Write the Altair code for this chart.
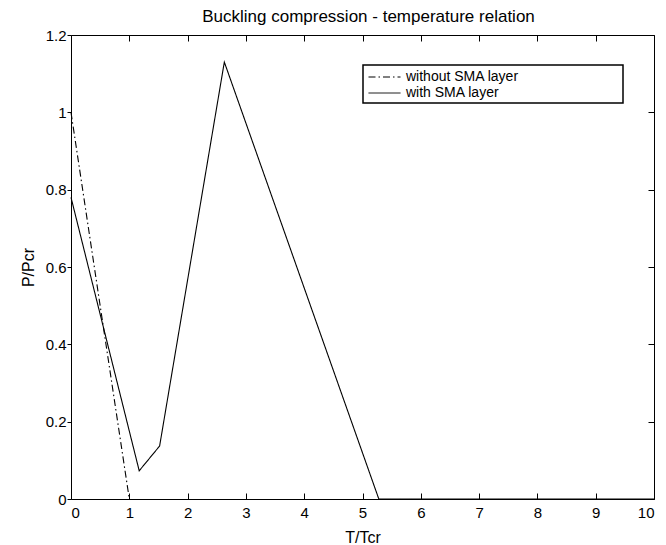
import altair as alt
import pandas as pd

# Data
without_x = [0.0, 1.0]
without_y = [1.0, 0.0]
with_x = [0.0, 1.17, 1.52, 2.63, 5.28, 10.0]
with_y = [0.78, 0.073, 0.137, 1.13, 0.0, 0.0]
series_names = ["without SMA layer", "with SMA layer"]
x_ticks = [0, 1, 2, 3, 4, 5, 6, 7, 8, 9, 10]
y_ticks = [0, 0.2, 0.4, 0.6, 0.8, 1, 1.2]

df_without = pd.DataFrame({"x": without_x, "y": without_y, "series": series_names[0]})
df_with = pd.DataFrame({"x": with_x, "y": with_y, "series": series_names[1]})

FONT = "Liberation Sans"
TICK = 6

x_scale = alt.Scale(domain=[0, 10], nice=False, zero=False)
y_scale = alt.Scale(domain=[0, 1.2], nice=False, zero=False)
dash_scale = alt.Scale(domain=series_names, range=[[7, 3, 1.5, 3], [1, 0]])

legend = alt.Legend(
    title=None,
    orient="none",
    legendX=297,
    legendY=34,
    padding=0,
    symbolType="stroke",
    symbolSize=1024,
    symbolStrokeWidth=1,
    symbolStrokeColor="black",
    clipHeight=16,
    labelFont=FONT,
    labelFontSize=14,
    labelColor="black",
    labelOffset=5,
    labelLimit=400,
    rowPadding=0,
)

bottom_axis = alt.Axis(
    values=x_ticks, labelExpr="'' + datum.value", orient="bottom", offset=-TICK, tickSize=TICK,
    domain=False, grid=False, labelPadding=6, title="T/Tcr", titlePadding=9,
)
left_axis = alt.Axis(
    values=y_ticks, labelExpr="'' + datum.value", orient="left", tickSize=4,
    domain=False, grid=False, labelPadding=1, title="P/Pcr", titlePadding=9,
)
top_axis = alt.Axis(
    values=x_ticks, orient="top", offset=-TICK, tickSize=TICK, minExtent=0, maxExtent=0,
    domain=False, grid=False, labels=False, title=None,
)
right_axis = alt.Axis(
    values=y_ticks, orient="right", offset=-TICK, tickSize=TICK, minExtent=0, maxExtent=0,
    domain=False, grid=False, labels=False, title=None,
)

# legend frame (decoration only, in pixel units of the plot area)
legend_frame = alt.Chart(df_with.head(1)).mark_rect(
    fill="white", stroke="black", strokeWidth=1.5
).encode(
    x=alt.value(292), x2=alt.value(552), y=alt.value(30), y2=alt.value(68)
)

layer_without = alt.Chart(df_without).mark_line(color="black", strokeWidth=1.1).encode(
    x=alt.X("x:Q", scale=x_scale, axis=bottom_axis),
    y=alt.Y("y:Q", scale=y_scale, axis=left_axis),
    strokeDash=alt.StrokeDash("series:N", scale=dash_scale, legend=legend),
)

layer_with = alt.Chart(df_with).mark_line(color="black", strokeWidth=1.1).encode(
    x=alt.X("x:Q", scale=x_scale, axis=top_axis),
    y=alt.Y("y:Q", scale=y_scale, axis=right_axis),
    strokeDash=alt.StrokeDash("series:N", scale=dash_scale, legend=legend),
)

chart = (
    alt.layer(layer_without, layer_with, legend_frame)
    .resolve_axis(x="independent", y="independent")
    .properties(
        width=583,
        height=464,
        padding={"left": 71, "top": 35, "right": 12, "bottom": 46},
        autosize=alt.AutoSizeParams(type="none"),
        title=alt.TitleParams(
            "Buckling compression - temperature relation",
            font=FONT, fontSize=17, fontWeight="normal", color="black",
            anchor="middle", baseline="alphabetic", offset=10, dy=21, dx=6,
        ),
        background="white",
    )
    .configure_view(stroke="black", strokeWidth=1)
    .configure_axis(
        labelFont=FONT, labelFontSize=15, labelColor="black",
        titleFont=FONT, titleFontSize=16, titleColor="black", titleFontWeight="normal",
        tickColor="black", tickWidth=1,
    )
)

chart.save("out.html", embed_options={"renderer": "svg", "actions": False})
